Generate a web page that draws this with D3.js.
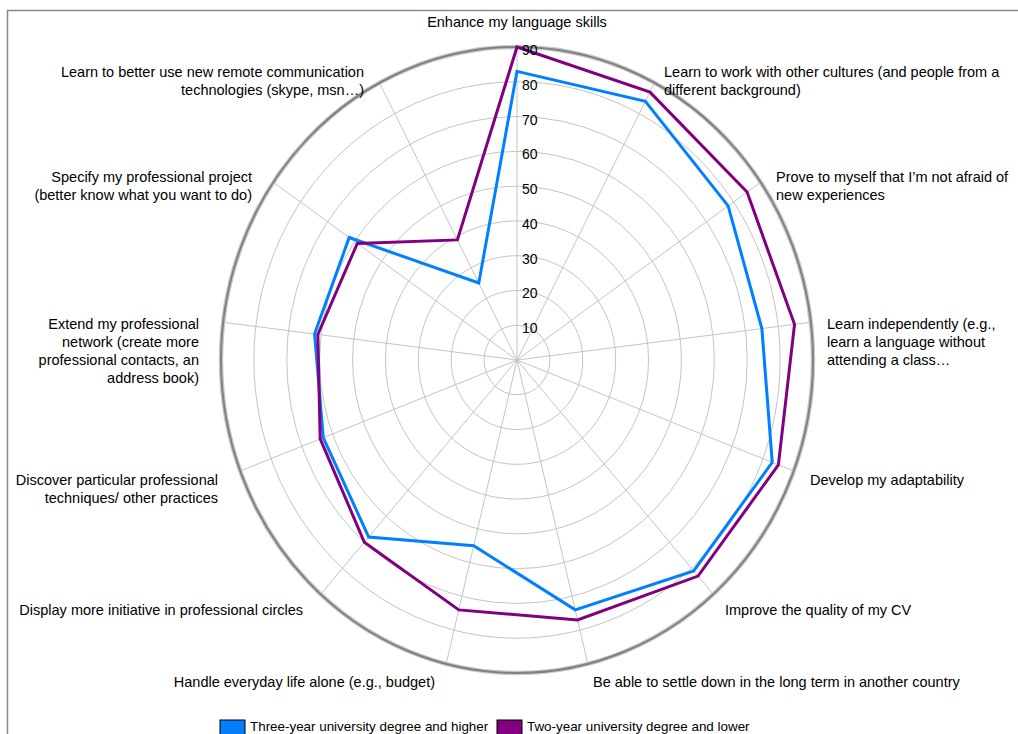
<!DOCTYPE html>
<html>
<head>
<meta charset="utf-8">
<script src="https://cdn.jsdelivr.net/npm/d3@7"></script>
<style>
  html, body { margin: 0; padding: 0; background: #fff; }
  svg { display: block; }
  text { font-family: "Liberation Sans", Arial, sans-serif; fill: #000; }
</style>
</head>
<body>
<svg id="chart" width="1018" height="734"></svg>
<script>
// Axis categories, clockwise from the top
const categories = [
  "Enhance my language skills",
  "Learn to work with other cultures (and people from a different background)",
  "Prove to myself that I’m not afraid of new experiences",
  "Learn independently (e.g., learn a language without attending a class…",
  "Develop my adaptability",
  "Improve the quality of my CV",
  "Be able to settle down in the long term in another country",
  "Handle everyday life alone (e.g., budget)",
  "Display more initiative in professional circles",
  "Discover particular professional techniques/ other practices",
  "Extend my professional network (create more professional contacts, an address book)",
  "Specify my professional project (better know what you want to do)",
  "Learn to better use new remote communication technologies (skype, msn…)"
];

// Wrapped label lines for each category
const labelLines = [
  ["Enhance my language skills"],
  ["Learn to work with other cultures (and people from a", "different background)"],
  ["Prove to myself that I’m not afraid of", "new experiences"],
  ["Learn independently (e.g.,", "learn a language without", "attending a class…"],
  ["Develop my adaptability"],
  ["Improve the quality of my CV"],
  ["Be able to settle down in the long term in another country"],
  ["Handle everyday life alone (e.g., budget)"],
  ["Display more initiative in professional circles"],
  ["Discover particular professional", "techniques/ other practices"],
  ["Extend my professional", "network (create more", "professional contacts, an", "address book)"],
  ["Specify my professional project", "(better know what you want to do)"],
  ["Learn to better use new remote communication", "technologies (skype, msn…)"]
];

const seriesNames = ["Three-year university degree and higher", "Two-year university degree and lower"];
const threeYearHigher = [83, 84, 78, 75, 83, 81, 74, 55, 68, 63, 62, 62, 25];
const twoYearLower    = [90, 87, 85, 85, 85, 83, 77, 74, 70, 64, 61, 59, 39];
const seriesColors = ["#0080ff", "#800080"];

const tickValues = [10, 20, 30, 40, 50, 60, 70, 80, 90];
const maxValue = 90;

// Plot geometry
const cx = 517, cy = 360, rx = 296, ry = 313;

const svg = d3.select("#chart");

// Outer frame
svg.append("rect")
  .attr("x", 7.5).attr("y", 10.5)
  .attr("width", 1030).attr("height", 740)
  .attr("fill", "none").attr("stroke", "#888").attr("stroke-width", 1.5);

const n = categories.length;
const angle = d3.scaleLinear().domain([0, n]).range([0, 2 * Math.PI]);
const rX = d3.scaleLinear().domain([0, maxValue]).range([0, rx]);
const rY = d3.scaleLinear().domain([0, maxValue]).range([0, ry]);

const px = (i, v) => cx + rX(v) * Math.sin(angle(i));
const py = (i, v) => cy - rY(v) * Math.cos(angle(i));

const g = svg.append("g");

// Concentric grid rings
g.selectAll("ellipse.grid")
  .data(tickValues.slice(0, -1))
  .join("ellipse")
  .attr("class", "grid")
  .attr("cx", cx).attr("cy", cy)
  .attr("rx", d => rX(d)).attr("ry", d => rY(d))
  .attr("fill", "none").attr("stroke", "#c4c4c4").attr("stroke-width", 1);

// Spokes
g.selectAll("line.spoke")
  .data(d3.range(n))
  .join("line")
  .attr("class", "spoke")
  .attr("x1", cx).attr("y1", cy)
  .attr("x2", i => px(i, maxValue)).attr("y2", i => py(i, maxValue))
  .attr("stroke", "#c4c4c4").attr("stroke-width", 1);

// Outer ring
g.append("ellipse")
  .attr("cx", cx).attr("cy", cy)
  .attr("rx", rX(maxValue)).attr("ry", rY(maxValue))
  .attr("fill", "none").attr("stroke", "#c8c8c8").attr("stroke-width", 4.5);
g.append("ellipse")
  .attr("cx", cx).attr("cy", cy)
  .attr("rx", rX(maxValue)).attr("ry", rY(maxValue))
  .attr("fill", "none").attr("stroke", "#808080").attr("stroke-width", 2);

// Series polygons
const line = d3.line()
  .x((v, i) => px(i, v))
  .y((v, i) => py(i, v))
  .curve(d3.curveLinearClosed);

[threeYearHigher, twoYearLower].forEach((vals, k) => {
  g.append("path")
    .attr("d", line(vals))
    .attr("fill", "none")
    .attr("stroke", seriesColors[k])
    .attr("stroke-width", 3)
    .attr("stroke-linejoin", "miter");
});

// Value tick labels along the top spoke
g.selectAll("text.tick")
  .data(tickValues)
  .join("text")
  .attr("class", "tick")
  .attr("x", cx + 5)
  .attr("y", d => cy - rY(d) + 8)
  .attr("font-size", 14)
  .text(d => d);

// Category label placement: anchor point and alignment
const labelPos = [
  { x: 517, y: 27, anchor: "middle" },
  { x: 664, y: 77, anchor: "start" },
  { x: 776, y: 182, anchor: "start" },
  { x: 827, y: 329, anchor: "start" },
  { x: 810, y: 485, anchor: "start" },
  { x: 725, y: 615, anchor: "start" },
  { x: 593, y: 687, anchor: "start" },
  { x: 435, y: 687, anchor: "end" },
  { x: 303, y: 615, anchor: "end" },
  { x: 218, y: 485, anchor: "end" },
  { x: 199, y: 329, anchor: "end" },
  { x: 252, y: 182, anchor: "end" },
  { x: 364, y: 77, anchor: "end" }
];
const lineHeight = 18;

const labels = g.selectAll("text.cat")
  .data(labelLines)
  .join("text")
  .attr("class", "cat")
  .attr("font-size", 14.5)
  .attr("text-anchor", (d, i) => labelPos[i].anchor);
labels.selectAll("tspan")
  .data((d, i) => d.map((t, j) => ({ t, j, i })))
  .join("tspan")
  .attr("x", d => labelPos[d.i].x)
  .attr("y", d => labelPos[d.i].y + d.j * lineHeight)
  .text(d => d.t);

// Legend
const legend = svg.append("g");
const legendX = [220, 497];
seriesNames.forEach((name, k) => {
  legend.append("rect")
    .attr("x", legendX[k]).attr("y", 720)
    .attr("width", 25).attr("height", 16)
    .attr("fill", seriesColors[k])
    .attr("stroke", "#000").attr("stroke-width", 1);
  legend.append("text")
    .attr("x", legendX[k] + 30).attr("y", 731)
    .attr("font-size", 13.4)
    .text(name);
});
</script>
</body>
</html>
